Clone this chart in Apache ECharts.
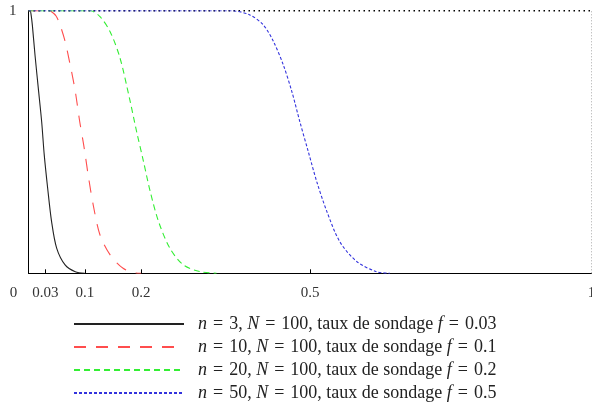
<!DOCTYPE html>
<html>
<head>
<meta charset="utf-8">
<script src="https://cdn.jsdelivr.net/npm/echarts@6/dist/echarts.min.js"></script>
<style>
    html, body { margin: 0; padding: 0; background: #fff; }
    #chart { width: 592px; height: 404px; }
</style>
</head>
<body>
<div id="chart"></div>
<script>
// courbes (x, y)
let blackX = [0, 0.003, 0.0044, 0.0068, 0.0115, 0.0174, 0.0234, 0.028, 0.034, 0.041, 0.050, 0.065, 0.083, 0.1];
let blackY = [1, 1, 0.988, 0.946, 0.832, 0.705, 0.577, 0.45, 0.325, 0.197, 0.096, 0.032, 0.006, 0];

let redX = [0, 0.036, 0.041, 0.049, 0.056, 0.065, 0.074, 0.083, 0.091, 0.099, 0.106, 0.115, 0.127, 0.145, 0.168, 0.19, 0.2];
let redY = [1, 1, 0.996, 0.98, 0.946, 0.883, 0.794, 0.694, 0.577, 0.476, 0.374, 0.26, 0.146, 0.07, 0.019, 0.001, 0];

let greenX = [0, 0.11, 0.127, 0.145, 0.1625, 0.18, 0.192, 0.204, 0.216, 0.231, 0.251, 0.275, 0.305, 0.334];
let greenY = [1, 1, 0.977, 0.92, 0.82, 0.66, 0.54, 0.428, 0.313, 0.197, 0.096, 0.032, 0.006, 0];

let blueX = [0, 0.36, 0.393, 0.417, 0.435, 0.4525, 0.4675, 0.482, 0.497, 0.512, 0.53, 0.553, 0.583, 0.618, 0.642];
let blueY = [1, 1, 0.984, 0.946, 0.883, 0.794, 0.694, 0.577, 0.463, 0.349, 0.235, 0.12, 0.045, 0.006, 0];

let xTicks = [0.03, 0.1, 0.2, 0.5];
let xLabels = [0, 0.03, 0.1, 0.2, 0.5, 1];
let yLabels = [1];

let legendNames = ['n3', 'n10', 'n20', 'n50'];
// espaces un peu plus larges autour de « = » comme en mode math
let legendTexts = [
    '{i|n}\u2004=\u20043, {i|N}\u2004=\u2004100, taux de sondage {i|f}\u2004=\u20040.03',
    '{i|n}\u2004=\u200410, {i|N}\u2004=\u2004100, taux de sondage {i|f}\u2004=\u20040.1',
    '{i|n}\u2004=\u200420, {i|N}\u2004=\u2004100, taux de sondage {i|f}\u2004=\u20040.2',
    '{i|n}\u2004=\u200450, {i|N}\u2004=\u2004100, taux de sondage {i|f}\u2004=\u20040.5'
];

function pairs(xs, ys) {
    let out = [];
    for (let i = 0; i < xs.length; i++) {
        out.push([xs[i], ys[i]]);
    }
    return out;
}

let serif = '"Liberation Serif", "DejaVu Serif", serif';

// une légende par ligne, pour tenir dans le bas de l'image
let legends = [];
for (let i = 0; i < legendNames.length; i++) {
    legends.push({
        data: [legendNames[i]],
        left: 73,
        top: 315 + i * 23,
        padding: 0,
        itemWidth: 110,
        itemHeight: 14,
        itemStyle: { opacity: 0 },
        formatter: function (name) {
            return legendTexts[legendNames.indexOf(name)];
        },
        textStyle: {
            fontFamily: serif,
            fontSize: 18,
            color: '#222',
            padding: [0, 0, 0, 9],
            rich: {
                i: {
                    fontFamily: serif,
                    fontStyle: 'italic',
                    fontSize: 18,
                    color: '#222'
                }
            }
        }
    });
}

let myChart = echarts.init(document.getElementById('chart'));
let option = {
    animation: false,
    grid: {
        left: 28.5,
        right: 0.5,
        top: 10.7,
        bottom: 130.7,
        outerBoundsMode: 'none'
    },
    legend: legends,
    xAxis: {
        type: 'value',
        min: 0,
        max: 1,
        splitLine: { show: false },
        axisLine: { lineStyle: { color: '#000', width: 1 } },
        axisTick: {
            customValues: xTicks,
            inside: true,
            length: 4,
            lineStyle: { color: '#000' }
        },
        axisLabel: {
            customValues: xLabels,
            margin: 12,
            fontFamily: serif,
            fontSize: 15,
            color: '#333',
            formatter: function (v) {
                if (v === 0) {
                    return '{z|0}';
                }
                return String(v);
            },
            rich: {
                z: {
                    fontFamily: serif,
                    fontSize: 15,
                    color: '#333',
                    padding: [0, 30, 0, 0]
                }
            }
        }
    },
    yAxis: {
        type: 'value',
        min: 0,
        max: 1,
        splitLine: { show: false },
        axisLine: { show: true, lineStyle: { color: '#000', width: 1 } },
        axisTick: { show: false },
        axisLabel: {
            customValues: yLabels,
            margin: 12,
            fontFamily: serif,
            fontSize: 15,
            color: '#333'
        }
    },
    series: [
        {
            name: 'top',
            type: 'line',
            symbol: 'none',
            silent: true,
            data: [[0, 1], [1, 1]],
            lineStyle: { color: '#000', width: 1.5, type: [1.5, 3.5] },
            z: 1
        },
        {
            name: 'right',
            type: 'line',
            symbol: 'none',
            silent: true,
            data: [[1, 0], [1, 1]],
            lineStyle: { color: '#aaa', width: 1, type: [1, 2] },
            z: 1
        },
        {
            name: 'n3',
            type: 'line',
            symbol: 'none',
            smooth: 0.3,
            data: pairs(blackX, blackY),
            lineStyle: { color: '#222', width: 1.1, type: 'solid' },
            itemStyle: { color: '#222' }
        },
        {
            name: 'n10',
            type: 'line',
            symbol: 'none',
            smooth: 0.3,
            data: pairs(redX, redY),
            lineStyle: { color: '#ff4d4d', width: 1.1, type: [12, 10] },
            itemStyle: { color: '#ff4d4d' }
        },
        {
            name: 'n20',
            type: 'line',
            symbol: 'none',
            smooth: 0.3,
            data: pairs(greenX, greenY),
            lineStyle: { color: '#33ee33', width: 1.1, type: [6, 4] },
            itemStyle: { color: '#33ee33' }
        },
        {
            name: 'n50',
            type: 'line',
            symbol: 'none',
            smooth: 0.3,
            data: pairs(blueX, blueY),
            lineStyle: { color: '#3333dd', width: 1.1, type: [3, 2] },
            itemStyle: { color: '#3333dd' }
        }
    ]
};
myChart.setOption(option);
</script>
</body>
</html>
